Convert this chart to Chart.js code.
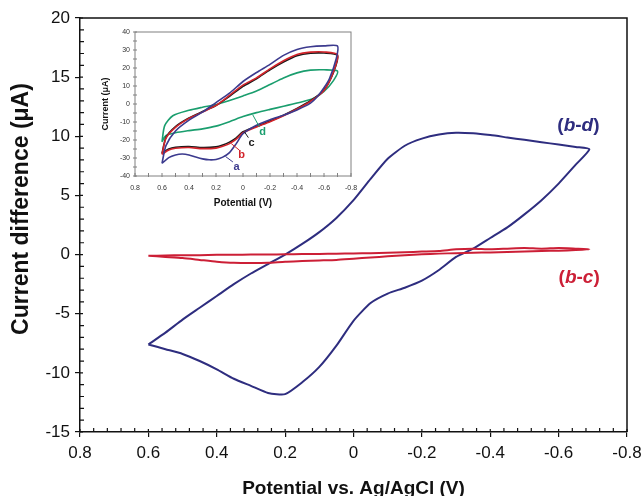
<!DOCTYPE html>
<html>
<head>
<meta charset="utf-8">
<script src="https://cdn.jsdelivr.net/npm/chart.js@4.4.0/dist/chart.umd.min.js"></script>
<style>
  html, body { margin: 0; padding: 0; background: #fff; }
  #wrap { position: relative; width: 643px; height: 496px; }
  #main { position: absolute; left: 0; top: 0; }
  #inset { position: absolute; left: 95px; top: 18px; }
</style>
</head>
<body>
<div id="wrap">
  <canvas id="main" width="643" height="496"></canvas>
  <canvas id="inset" width="270" height="195"></canvas>
</div>
<script>
// ---------- DATA (main plot: current difference vs potential) ----------
const bdPotential = [0.6, 0.55, 0.5, 0.45, 0.4, 0.35, 0.3, 0.25, 0.2, 0.15, 0.1, 0.05, 0, -0.05, -0.1, -0.15, -0.2, -0.25, -0.3, -0.35, -0.4, -0.45, -0.5, -0.55, -0.6, -0.65, -0.69,
  -0.65, -0.6, -0.55, -0.5, -0.45, -0.4, -0.35, -0.3, -0.25, -0.2, -0.15, -0.1, -0.05, 0, 0.05, 0.1, 0.15, 0.2, 0.25, 0.3, 0.35, 0.4, 0.45, 0.5, 0.55, 0.6];
const bdCurrent = [-7.6, -6.6, -5.5, -4.5, -3.5, -2.5, -1.6, -0.8, 0, 0.9, 1.9, 3.1, 4.6, 6.4, 8.1, 9.2, 9.8, 10.15, 10.3, 10.25, 10.1, 9.9, 9.7, 9.5, 9.3, 9.1, 8.9,
  7.6, 6.0, 4.6, 3.4, 2.3, 1.4, 0.5, -0.2, -1.3, -2.2, -2.8, -3.3, -4.1, -5.6, -7.7, -9.5, -10.8, -11.8, -11.7, -11.1, -10.5, -9.7, -9.0, -8.4, -8.0, -7.6];

const bcPotential = bdPotential.slice();
const bcCurrent = [-0.1, -0.2, -0.3, -0.45, -0.6, -0.7, -0.72, -0.7, -0.6, -0.55, -0.5, -0.45, -0.35, -0.25, -0.15, -0.05, 0.02, 0.08, 0.12, 0.15, 0.18, 0.22, 0.25, 0.3, 0.33, 0.38, 0.45,
  0.5, 0.55, 0.5, 0.55, 0.5, 0.45, 0.5, 0.45, 0.3, 0.25, 0.2, 0.15, 0.12, 0.1, 0.08, 0.05, 0.04, 0.02, 0, 0, -0.02, -0.02, -0.05, -0.05, -0.08, -0.1];

// ---------- DATA (inset: current vs potential, curves a-d) ----------
const aPotential = [0.6, 0.57, 0.5, 0.4, 0.3, 0.2, 0.1, 0, -0.1, -0.2, -0.3, -0.4, -0.5, -0.6, -0.7,
  -0.69, -0.64, -0.6, -0.55, -0.5, -0.4, -0.3, -0.2, -0.1, 0, 0.05, 0.1, 0.15, 0.2, 0.25, 0.3, 0.35, 0.4, 0.45, 0.5, 0.55, 0.6];
const aCurrent = [-33, -23, -15, -9, -4.5, 0.8, 6, 12.5, 17.5, 22, 27, 30.3, 31.8, 32.3, 32.2,
  25, 14, 9, 4, 0.5, -3.3, -6.2, -8.7, -11.8, -16.5, -22, -27, -29.5, -30.8, -31, -30.5, -29.5, -28.3, -27.8, -28.3, -29.8, -33];

const bPotential = [0.6, 0.57, 0.5, 0.4, 0.3, 0.2, 0.1, 0, -0.1, -0.2, -0.3, -0.4, -0.5, -0.6, -0.7,
  -0.67, -0.6, -0.5, -0.4, -0.3, -0.2, -0.1, 0, 0.05, 0.1, 0.15, 0.2, 0.3, 0.4, 0.5, 0.55, 0.6];
const bCurrent = [-28, -19, -13, -8, -4.5, -0.8, 4.8, 10.5, 14.5, 19.5, 24, 27.5, 28.8, 28.9, 27.4,
  17.8, 7.5, 1.5, -2.8, -6.5, -9.8, -12.8, -16, -19.5, -22, -23.5, -24.5, -24.8, -24.2, -24.6, -25.5, -28];

const cPotential = bPotential.slice();
const cCurrent = [-27.5, -18.5, -12.5, -7.8, -4.2, -0.8, 4.3, 9.8, 14, 19, 23.3, 26.8, 28.2, 28.3, 27,
  17.5, 7.8, 1.8, -2.5, -6.2, -9.5, -12.4, -15.4, -18.8, -21.2, -22.8, -23.8, -24.2, -23.6, -24, -25, -27.5];

const dPotential = [0.6, 0.58, 0.52, 0.4, 0.3, 0.2, 0.1, 0, -0.1, -0.2, -0.3, -0.4, -0.5, -0.6, -0.7,
  -0.67, -0.6, -0.52, -0.4, -0.3, -0.2, -0.1, 0, 0.1, 0.2, 0.3, 0.4, 0.5, 0.57, 0.6];
const dCurrent = [-21, -12, -6.5, -3.5, -1.8, -0.3, 2, 4.5, 7.2, 10.8, 14.5, 17.3, 18.8, 19, 18.3,
  13, 7, 3, 0.5, -1.3, -3, -4.8, -7, -9.8, -12.3, -13.8, -14.8, -16, -17.5, -21];

// tick values
const mainXTicks = [0.8, 0.6, 0.4, 0.2, 0, -0.2, -0.4, -0.6, -0.8];
const mainYTicks = [-15, -10, -5, 0, 5, 10, 15, 20];
const insetYTicks = [-40, -30, -20, -10, 0, 10, 20, 30, 40];

// curve labels: text pieces (italic flag) and anchor in data units
const mainLabels = [
  { parts: [["(", 0], ["b", 1], ["-", 0], ["d", 1], [")", 0]], x: -0.658, y: 10.9, color: "#2e2d7f" },
  { parts: [["(", 0], ["b", 1], ["-", 0], ["c", 1], [")", 0]], x: -0.66, y: -2.0, color: "#cc1f36" }
];
const insetLabels = [
  { text: "a", x: 0.048, y: -35.2, from: [0.075, -32.2], to: [0.129, -29.2], color: "#3c3a8e" },
  { text: "b", x: 0.011, y: -28.5, from: [0.026, -25.7], to: [0.087, -22], color: "#d2232a" },
  { text: "c", x: -0.063, y: -21.8, from: [-0.04, -18.7], to: [-0.011, -15.5], color: "#1a1a1a" },
  { text: "d", x: -0.145, y: -15.6, from: [-0.122, -12.8], to: [-0.072, -6.0], color: "#1a9e6e" }
];
const yTitle = "Current difference (\u03bcA)";

Chart.defaults.font.family = "'Liberation Sans', Arial, sans-serif";
Chart.defaults.color = "#111";

function toPoints(xs, ys) {
  return xs.map((x, i) => ({ x: x, y: ys[i] }));
}
function fmt(v) {
  return String(Number(v.toFixed(1)));
}

// ---------- MAIN CHART ----------
const mainDecor = {
  id: "mainDecor",
  afterDraw(chart) {
    const { ctx, chartArea: a, scales: { x, y } } = chart;
    ctx.save();
    ctx.strokeStyle = "#111";
    ctx.lineWidth = 1.5;
    ctx.beginPath();
    ctx.moveTo(a.left, a.top);
    ctx.lineTo(a.right, a.top);
    ctx.lineTo(a.right, a.bottom);
    ctx.stroke();
    // minor / inner ticks
    ctx.lineWidth = 1.2;
    ctx.beginPath();
    for (let i = 0; i <= 40; i++) {
      const px = x.getPixelForValue(-0.8 + i * 0.04);
      const len = i % 5 === 0 ? 3 : 4;
      ctx.moveTo(px, a.bottom);
      ctx.lineTo(px, a.bottom - len);
    }
    for (let i = 0; i <= 35; i++) {
      const py = y.getPixelForValue(-15 + i);
      const len = i % 5 === 0 ? 3 : 4;
      ctx.moveTo(a.left, py);
      ctx.lineTo(a.left + len, py);
    }
    ctx.stroke();
    // y axis title
    ctx.save();
    ctx.translate(22, 209);
    ctx.rotate(-Math.PI / 2);
    ctx.font = "bold 23px 'Liberation Sans', Arial, sans-serif";
    ctx.fillStyle = "#111";
    ctx.textAlign = "center";
    ctx.textBaseline = "middle";
    ctx.fillText(yTitle, 0, 0);
    ctx.restore();
    // curve labels
    ctx.textBaseline = "middle";
    mainLabels.forEach(l => {
      const fonts = l.parts.map(p => (p[1] ? "italic " : "") + "bold 19px 'Liberation Sans', Arial, sans-serif");
      let total = 0;
      const widths = l.parts.map((p, i) => { ctx.font = fonts[i]; const w = ctx.measureText(p[0]).width; total += w; return w; });
      let cx = x.getPixelForValue(l.x) - total / 2;
      const cy = y.getPixelForValue(l.y);
      ctx.fillStyle = l.color;
      ctx.textAlign = "left";
      l.parts.forEach((p, i) => { ctx.font = fonts[i]; ctx.fillText(p[0], cx, cy); cx += widths[i]; });
    });
    ctx.restore();
  }
};

new Chart(document.getElementById("main"), {
  type: "scatter",
  data: {
    datasets: [
      { label: "(b-c)", data: toPoints(bcPotential, bcCurrent), borderColor: "#cc1f36", borderWidth: 2, showLine: true, pointRadius: 0, tension: 0.2 },
      { label: "(b-d)", data: toPoints(bdPotential, bdCurrent), borderColor: "#2e2d7f", borderWidth: 2, showLine: true, pointRadius: 0, tension: 0.2 }
    ]
  },
  options: {
    responsive: false,
    animation: false,
    layout: { padding: { top: 18, right: 16, left: 0, bottom: 0 } },
    plugins: { legend: { display: false }, tooltip: { enabled: false } },
    scales: {
      x: {
        type: "linear", reverse: true, min: -0.8, max: 0.8,
        afterBuildTicks: s => { s.ticks = mainXTicks.map(v => ({ value: v })); },
        afterFit: s => { s.height = 64; s.paddingLeft = 0; s.paddingRight = 0; },
        ticks: { callback: v => fmt(v), font: { size: 17 }, color: "#111", padding: 6, maxRotation: 0, autoSkip: false },
        grid: { drawOnChartArea: false, drawTicks: true, tickLength: 5, color: "#111", lineWidth: 1.2 },
        border: { display: true, color: "#111", width: 1.5 },
        title: { display: true, text: "Potential vs. Ag/AgCl (V)", font: { size: 19, weight: "bold", lineHeight: 1 }, color: "#111", padding: { top: 0, bottom: -2 } }
      },
      y: {
        type: "linear", min: -15, max: 20,
        afterBuildTicks: s => { s.ticks = mainYTicks.map(v => ({ value: v })); },
        afterFit: s => { s.width = 80; s.paddingTop = 0; s.paddingBottom = 0; },
        ticks: { font: { size: 17 }, color: "#111", padding: 5, autoSkip: false },
        grid: { drawOnChartArea: false, drawTicks: true, tickLength: 5, color: "#111", lineWidth: 1.2 },
        border: { display: true, color: "#111", width: 1.5 },
        title: { display: false }
      }
    }
  },
  plugins: [mainDecor]
});

// ---------- INSET CHART ----------
const insetDecor = {
  id: "insetDecor",
  afterDraw(chart) {
    const { ctx, chartArea: a, scales: { x, y } } = chart;
    ctx.save();
    ctx.strokeStyle = "#808080";
    ctx.lineWidth = 1;
    ctx.strokeRect(a.left, a.top, a.right - a.left, a.bottom - a.top);
    ctx.beginPath();
    for (let i = 0; i <= 16; i++) {
      const px = x.getPixelForValue(-0.8 + i * 0.1);
      ctx.moveTo(px, a.bottom + 1);
      ctx.lineTo(px, a.bottom - 3);
    }
    for (let i = 0; i <= 16; i++) {
      const py = y.getPixelForValue(-40 + i * 5);
      ctx.moveTo(a.left - 2, py);
      ctx.lineTo(a.left + 2, py);
    }
    ctx.stroke();
    ctx.font = "bold 11px 'Liberation Sans', Arial, sans-serif";
    ctx.textAlign = "center";
    ctx.textBaseline = "middle";
    insetLabels.forEach(l => {
      ctx.strokeStyle = l.color;
      ctx.lineWidth = 1;
      ctx.beginPath();
      ctx.moveTo(x.getPixelForValue(l.from[0]), y.getPixelForValue(l.from[1]));
      ctx.lineTo(x.getPixelForValue(l.to[0]), y.getPixelForValue(l.to[1]));
      ctx.stroke();
      ctx.fillStyle = l.color;
      ctx.fillText(l.text, x.getPixelForValue(l.x), y.getPixelForValue(l.y));
    });
    ctx.restore();
  }
};

const insetLine = (data, color) => ({ data: data, borderColor: color, borderWidth: 1.6, showLine: true, pointRadius: 0, tension: 0.25 });

new Chart(document.getElementById("inset"), {
  type: "scatter",
  data: {
    datasets: [
      insetLine(toPoints(aPotential, aCurrent), "#3c3a8e"),
      insetLine(toPoints(bPotential, bCurrent), "#d2232a"),
      insetLine(toPoints(cPotential, cCurrent), "#1a1a1a"),
      insetLine(toPoints(dPotential, dCurrent), "#1a9e6e")
    ]
  },
  options: {
    responsive: false,
    animation: false,
    layout: { padding: { top: 14, right: 14, left: 0, bottom: 0 } },
    plugins: { legend: { display: false }, tooltip: { enabled: false } },
    scales: {
      x: {
        type: "linear", reverse: true, min: -0.8, max: 0.8,
        afterBuildTicks: s => { s.ticks = mainXTicks.map(v => ({ value: v })); },
        afterFit: s => { s.height = 37; s.paddingLeft = 0; s.paddingRight = 0; },
        ticks: { callback: v => fmt(v), font: { size: 7 }, color: "#333", padding: 8, maxRotation: 0, autoSkip: false },
        grid: { display: false, drawTicks: false },
        border: { display: false },
        title: { display: true, text: "Potential (V)", font: { size: 10, weight: "bold", lineHeight: 1 }, color: "#111", padding: { top: 0, bottom: 5 } }
      },
      y: {
        type: "linear", min: -40, max: 40,
        afterBuildTicks: s => { s.ticks = insetYTicks.map(v => ({ value: v })); },
        afterFit: s => { s.width = 40; s.paddingTop = 0; s.paddingBottom = 0; },
        ticks: { font: { size: 7 }, color: "#333", padding: 5, autoSkip: false },
        grid: { display: false, drawTicks: false },
        border: { display: false },
        title: { display: true, text: "Current (\u03bcA)", font: { size: 9, weight: "bold", lineHeight: 1 }, color: "#111", padding: { top: 6, bottom: 0 } }
      }
    }
  },
  plugins: [insetDecor]
});
</script>
</body>
</html>
